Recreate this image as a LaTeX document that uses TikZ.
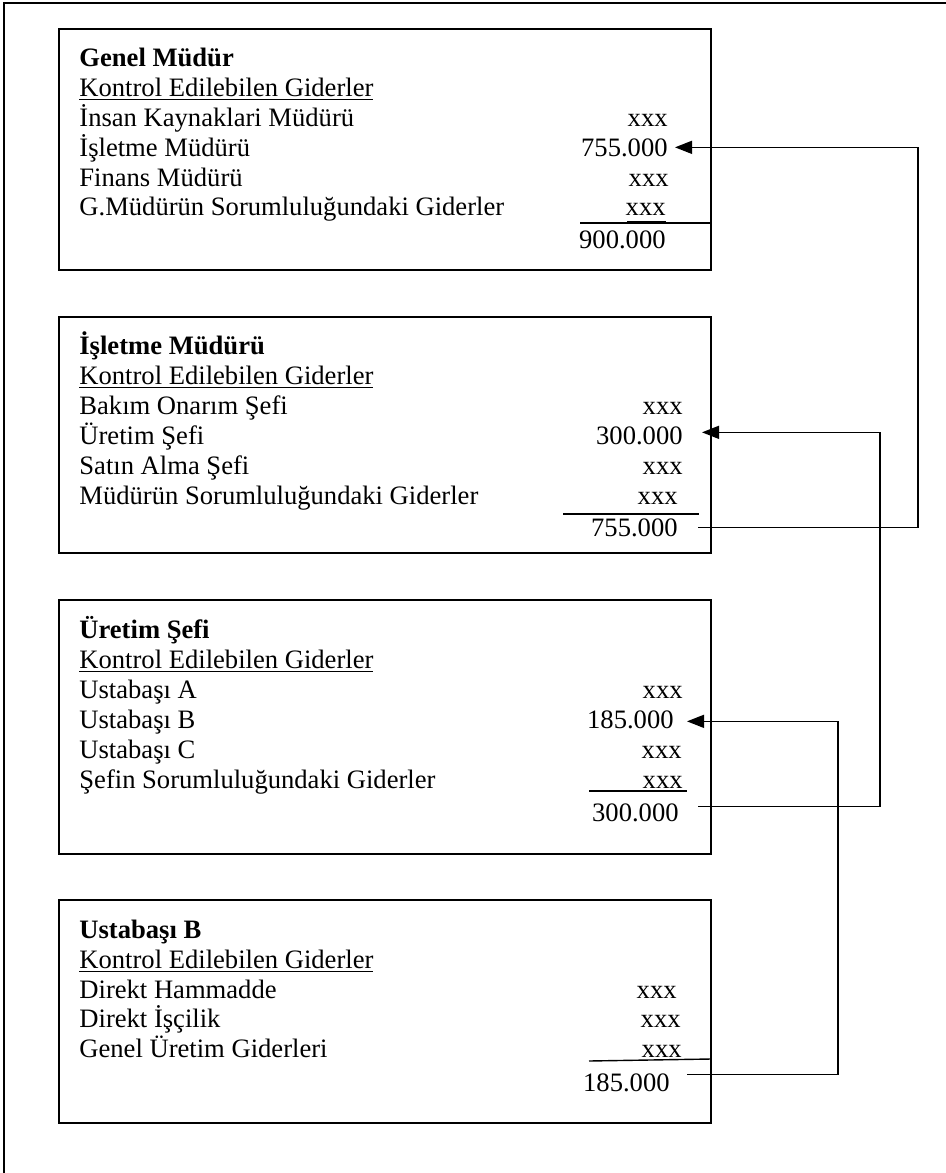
\documentclass[tikz,border=0pt]{standalone}
\usepackage{fontspec}
\setmainfont{Liberation Serif}
\usetikzlibrary{arrows.meta}
\begin{document}
\begin{tikzpicture}[x=0.5pt,y=-0.5pt,
  frameline/.style={line width=0.8pt},
  panel/.style={draw, line width=0.9pt},
  txt/.style={anchor=base west, inner sep=0pt, font=\fontsize{13.3}{15}\selectfont},
  head/.style={anchor=base west, inner sep=0pt, font=\fontsize{13.3}{15}\selectfont\bfseries},
  amount/.style={anchor=base east, inner sep=0pt, font=\fontsize{13.3}{15}\selectfont},
  sumrule/.style={line width=0.7pt},
  link/.style={line width=0.7pt, -{Triangle[length=8.5pt,width=6.5pt]}}]

\useasboundingbox (0,0) rectangle (946,1173);

% page frame (only top and left edges fall on the page)
\draw[frameline] (960,3) -- (4,3) -- (4,1190);

% ---------- Genel Müdür ----------
\draw[panel] (59,29) rectangle (711,270);
\node[head] (g0) at (79,66)  {Genel Müdür};
\node[txt]  (g1) at (79,96)  {\underline{Kontrol Edilebilen Giderler}};
\node[txt]  (g2) at (79,126) {İnsan Kaynaklari Müdürü};
\node[txt]  (g3) at (79,156) {İşletme Müdürü};
\node[txt]  (g4) at (79,186) {Finans Müdürü};
\node[txt]  (g5) at (79,215) {G.Müdürün Sorumluluğundaki Giderler};
\node[amount] (gv2) at (668,126) {xxx};
\node[amount] (gv3) at (668,156) {755.000};
\node[amount] (gv4) at (669,186) {xxx};
\node[amount] (gv5) at (666,215) {xxx};
\draw[sumrule] (580,223) -- (711,223);
\draw[line width=1.2pt] (627,222.5) -- (666,222.5);
\node[amount] (gt) at (666,248) {900.000};

% ---------- İşletme Müdürü ----------
\draw[panel] (59,317) rectangle (711,553);
\node[head] (i0) at (79,354) {İşletme Müdürü};
\node[txt]  (i1) at (79,384) {\underline{Kontrol Edilebilen Giderler}};
\node[txt]  (i2) at (79,414) {Bakım Onarım Şefi};
\node[txt]  (i3) at (79,444) {Üretim Şefi};
\node[txt]  (i4) at (79,474) {Satın Alma Şefi};
\node[txt]  (i5) at (79,504) {Müdürün Sorumluluğundaki Giderler};
\node[amount] (iv2) at (683,414) {xxx};
\node[amount] (iv3) at (683,444) {300.000};
\node[amount] (iv4) at (683,474) {xxx};
\node[amount] (iv5) at (678,504) {xxx};
\draw[sumrule] (563,514) -- (699,514);
\node[amount] (it) at (678,536) {755.000};

% ---------- Üretim Şefi ----------
\draw[panel] (59,600) rectangle (711,854);
\node[head] (u0) at (79,638) {Üretim Şefi};
\node[txt]  (u1) at (79,668) {\underline{Kontrol Edilebilen Giderler}};
\node[txt]  (u2) at (79,698) {Ustabaşı A};
\node[txt]  (u3) at (79,728) {Ustabaşı B};
\node[txt]  (u4) at (79,758) {Ustabaşı C};
\node[txt]  (u5) at (79,788) {Şefin Sorumluluğundaki Giderler};
\node[amount] (uv2) at (683,698) {xxx};
\node[amount] (uv3) at (674,728) {185.000};
\node[amount] (uv4) at (682,758) {xxx};
\node[amount] (uv5) at (683,788) {xxx};
\draw[sumrule] (589,791) -- (687,791);
\node[amount] (ut) at (679,821) {300.000};

% ---------- Ustabaşı B ----------
\draw[panel] (59,900) rectangle (711,1123);
\node[head] (s0) at (79,938)  {Ustabaşı B};
\node[txt]  (s1) at (79,968)  {\underline{Kontrol Edilebilen Giderler}};
\node[txt]  (s2) at (79,998)  {Direkt Hammadde};
\node[txt]  (s3) at (79,1027) {Direkt İşçilik};
\node[txt]  (s4) at (79,1057) {Genel Üretim Giderleri};
\node[amount] (sv2) at (677,998)  {xxx};
\node[amount] (sv3) at (681,1027) {xxx};
\node[amount] (sv4) at (682,1057) {xxx};
\draw[sumrule] (589,1061) -- (711,1059);
\node[amount] (st) at (670,1091) {185.000};

% ---------- roll-up connectors ----------
\coordinate (r1) at (918,0);
\coordinate (r2) at (880,0);
\coordinate (r3) at (838,0);

\draw[link] ([xshift=10pt]it.east) -- (it.east -| r1)
  |- ([xshift=3.5pt]gv3.east);
\draw[link] ([xshift=9.5pt,yshift=3pt]ut.east) -- ([yshift=3pt]ut.east -| r2)
  |- ([xshift=9.5pt,yshift=1.5pt]iv3.east);
\draw[link] ([xshift=8.5pt,yshift=4pt]st.east) -- ([yshift=4pt]st.east -| r3)
  |- ([xshift=6.5pt,yshift=-1pt]uv3.east);
\end{tikzpicture}
\end{document}
